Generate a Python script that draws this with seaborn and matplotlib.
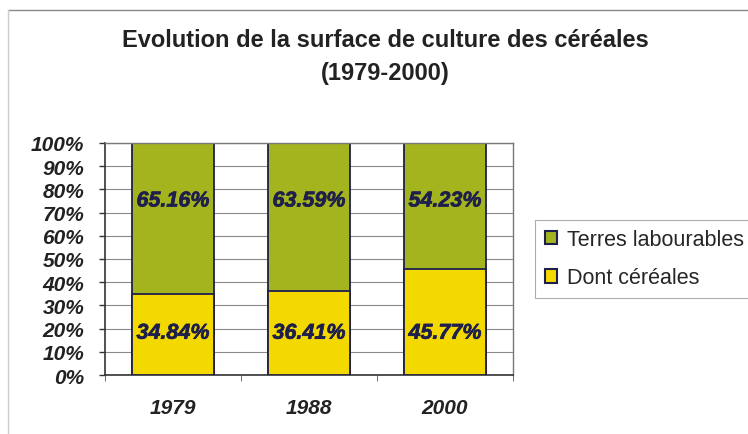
import pandas as pd
import matplotlib.pyplot as plt
import seaborn as sns
from matplotlib.patches import Patch
from matplotlib.lines import Line2D
from matplotlib.font_manager import FontProperties
import matplotlib.patheffects as pe

years = ["1979", "1988", "2000"]
terres = [65.16, 63.59, 54.23]
cereales = [34.84, 36.41, 45.77]

GREEN = "#a3b41e"
YELLOW = "#f3d900"
NAVY = "#1e1f4b"

df = pd.DataFrame({"year": years, "terres": terres, "cereales": cereales})
df["total"] = df["terres"] + df["cereales"]

sns.set_style("white")
plt.rcParams["font.family"] = ["Liberation Sans", "DejaVu Sans"]

fig = plt.figure(figsize=(7.48, 4.35), dpi=100)
ax = fig.add_axes([0.1404, 0.1356, 0.5455, 0.5334])

# green = full stack, yellow drawn on top of it
sns.barplot(data=df, x="year", y="total", color=GREEN, width=0.6,
            edgecolor=NAVY, linewidth=1.3, saturation=1, ax=ax, zorder=2)
sns.barplot(data=df, x="year", y="cereales", color=YELLOW, width=0.6,
            edgecolor=NAVY, linewidth=1.3, saturation=1, ax=ax, zorder=3)

bi = FontProperties(family="Liberation Sans", weight="bold", style="italic", size=15.5)
thick = [pe.withStroke(linewidth=0.45, foreground=NAVY)]
for i, row in df.iterrows():
    ax.text(i, 75, f"{row['terres']:.2f}%", ha="center", va="center",
            fontproperties=bi, color=NAVY, zorder=4, path_effects=thick)
    ax.text(i, 18, f"{row['cereales']:.2f}%", ha="center", va="center",
            fontproperties=bi, color=NAVY, zorder=4, path_effects=thick)

ax.set_xlim(-0.5, 2.5)
ax.set_ylim(0, 100)
ax.set_yticks(range(0, 101, 10))
ax.set_yticklabels([f"{v}%" for v in range(0, 101, 10)])
ax.yaxis.grid(True, color="#8a8a8a", linewidth=0.8, zorder=0)
ax.set_axisbelow(True)
ax.set_xlabel("")
ax.set_ylabel("")

ax.tick_params(axis="y", left=True, length=4, width=1, color="#333333", pad=11)
ax.tick_params(axis="x", bottom=False, pad=13)
ax.set_xticks([-0.5, 0.5, 1.5, 2.5], minor=True)
ax.tick_params(axis="x", which="minor", bottom=True, length=4, color="#555555")
for lab in ax.get_yticklabels() + ax.get_xticklabels():
    lab.set_fontsize(15)
    lab.set_fontweight("bold")
    lab.set_fontstyle("italic")
    lab.set_color("#222222")

for side in ["top", "right"]:
    ax.spines[side].set_color("#777777")
    ax.spines[side].set_linewidth(1)
for side in ["left", "bottom"]:
    ax.spines[side].set_color("#333333")
    ax.spines[side].set_linewidth(1.2)

fig.text(0.515, 0.908, "Evolution de la surface de culture des céréales",
         ha="center", va="center", fontsize=17, fontweight="bold", color="#222222")
fig.text(0.515, 0.832, "(1979-2000)", ha="center", va="center",
         fontsize=17, fontweight="bold", color="#222222")

handles = [Patch(facecolor=GREEN, edgecolor=NAVY, linewidth=1.5),
           Patch(facecolor=YELLOW, edgecolor=NAVY, linewidth=1.5)]
leg = fig.legend(handles, ["Terres labourables", "Dont céréales"],
                 loc="upper left", bbox_to_anchor=(0.715, 0.493),
                 fontsize=15.5, frameon=True, fancybox=False,
                 handlelength=0.6, handleheight=0.6, handletextpad=0.45,
                 labelspacing=0.8, borderpad=0.45, borderaxespad=0)
leg.get_frame().set_edgecolor("#999999")
leg.get_frame().set_linewidth(0.8)

# outer chart-area frame (top and left edges visible in the scan)
fig.add_artist(Line2D([0.011, 1.0], [0.975, 0.975], color="#888888", linewidth=1))
fig.add_artist(Line2D([0.011, 0.011], [0.0, 0.975], color="#cccccc", linewidth=1))

fig.savefig("out.png", dpi=100)
